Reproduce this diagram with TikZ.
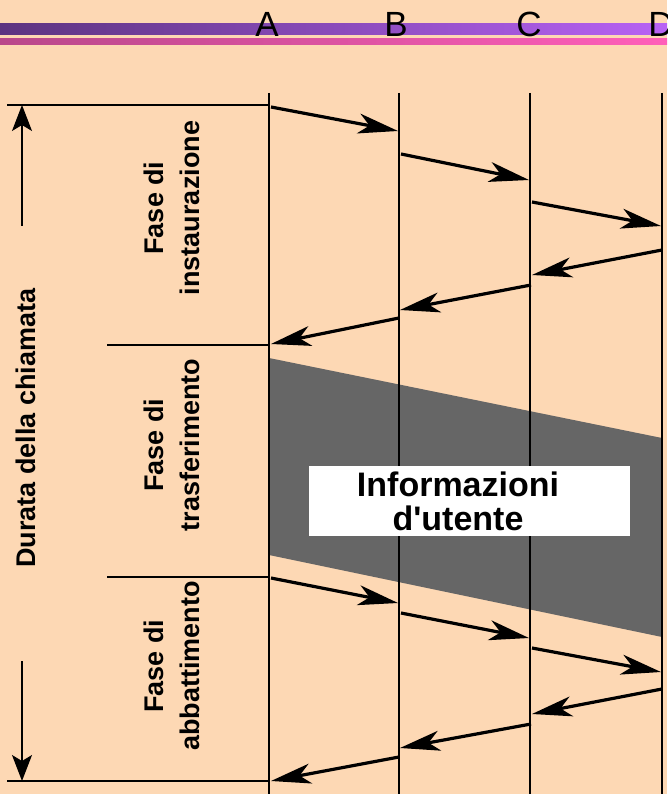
\documentclass[tikz,border=0pt]{standalone}
\usepackage{fontspec}
\setmainfont{Liberation Sans}
\usetikzlibrary{arrows.meta}
\definecolor{bg}{RGB}{253,216,180}
\definecolor{purpL}{RGB}{92,51,128}
\definecolor{purpR}{RGB}{184,98,245}
\definecolor{pinkL}{RGB}{185,71,138}
\definecolor{pinkR}{RGB}{255,95,185}
\definecolor{slab}{RGB}{102,102,102}
\begin{document}
\begin{tikzpicture}[x=1pt,y=-1pt,
  life/.style={line width=1.4pt},
  phase/.style={line width=1.3pt},
  msg/.style={line width=3.2pt,-{Stealth[length=40pt,width=20pt,inset=11pt]}},
  dur/.style={line width=1.4pt,-{Stealth[length=26pt,width=20pt,inset=6pt]}},
  ent/.style={font=\fontsize{35}{35}\selectfont,anchor=base},
  lbl/.style={rotate=90,align=center,font=\bfseries\fontsize{27}{36}\selectfont},
]
\useasboundingbox (0,0) rectangle (667,794);
\fill[bg] (0,0) rectangle (667,794);
% top bars
\shade[left color=purpL,right color=purpR] (0,24) rectangle (667,34.5);
\shade[left color=pinkL,right color=pinkR] (0,39) rectangle (667,45);
% entity letters
\node[ent] (lA) at (267,37) {A};
\node[ent] (lB) at (396,37) {B};
\node[ent] (lC) at (529,37) {C};
\node[ent] (lD) at (661,37) {D};
% data slab
\fill[slab] (269,358) -- (662,438) -- (662,637) -- (269,555) -- cycle;
% lifelines
\foreach \n/\x in {A/269,B/399,C/530,D/662}{
  \coordinate (t\n) at (\x,93);
  \coordinate (b\n) at (\x,794);
  \draw[life] (t\n) -- (b\n);
}
% info box
\node[fill=white,minimum width=321pt,minimum height=70pt,inner sep=0pt] (info) at (469.5,501) {};
\node[align=center,font=\bfseries\fontsize{34}{34}\selectfont,inner sep=0pt] (infotxt) at (458,501)
      {Informazioni\\d\textquotesingle utente};
% phase separators
\coordinate (h1a) at (7,105);   \coordinate (h1b) at (269,105);
\coordinate (h2a) at (107,345); \coordinate (h2b) at (269,345);
\coordinate (h3a) at (107,577); \coordinate (h3b) at (269,577);
\coordinate (h4a) at (7,781);   \coordinate (h4b) at (269,781);
\draw[phase] (h1a) -- (h1b);
\draw[phase] (h2a) -- (h2b);
\draw[phase] (h3a) -- (h3b);
\draw[phase] (h4a) -- (h4b);
% duration arrows
\coordinate (d1) at (22,226); \coordinate (d1e) at (22,105);
\coordinate (d2) at (22,661); \coordinate (d2e) at (22,781);
\draw[dur] (d1) -- (d1e);
\draw[dur] (d2) -- (d2e);
% setup messages
\coordinate (s1a) at (271,107); \coordinate (s1b) at (398,131);
\coordinate (s2a) at (401,154); \coordinate (s2b) at (529,180);
\coordinate (s3a) at (532,202); \coordinate (s3b) at (661,226);
\coordinate (s4a) at (662,250); \coordinate (s4b) at (532,275);
\coordinate (s5a) at (531,285); \coordinate (s5b) at (400,310);
\coordinate (s6a) at (399,318); \coordinate (s6b) at (271,344);
\foreach \i in {1,...,6}{\draw[msg] (s\i a) -- (s\i b);}
% release messages
\coordinate (r1a) at (271,578); \coordinate (r1b) at (398,603);
\coordinate (r2a) at (401,613); \coordinate (r2b) at (529,638);
\coordinate (r3a) at (532,648); \coordinate (r3b) at (661,672);
\coordinate (r4a) at (662,689); \coordinate (r4b) at (532,714);
\coordinate (r5a) at (531,724); \coordinate (r5b) at (400,748);
\coordinate (r6a) at (399,757); \coordinate (r6b) at (271,781);
\foreach \i in {1,...,6}{\draw[msg] (r\i a) -- (r\i b);}
% labels
\node[lbl] (ldur) at (26,428) {Durata della chiamata};
\node[lbl] (lp1) at (172,208) {Fase di\\instaurazione};
\node[lbl] (lp2) at (172,445) {Fase di\\trasferimento};
\node[lbl] (lp3) at (172,666) {Fase di\\abbattimento};
\end{tikzpicture}
\end{document}
